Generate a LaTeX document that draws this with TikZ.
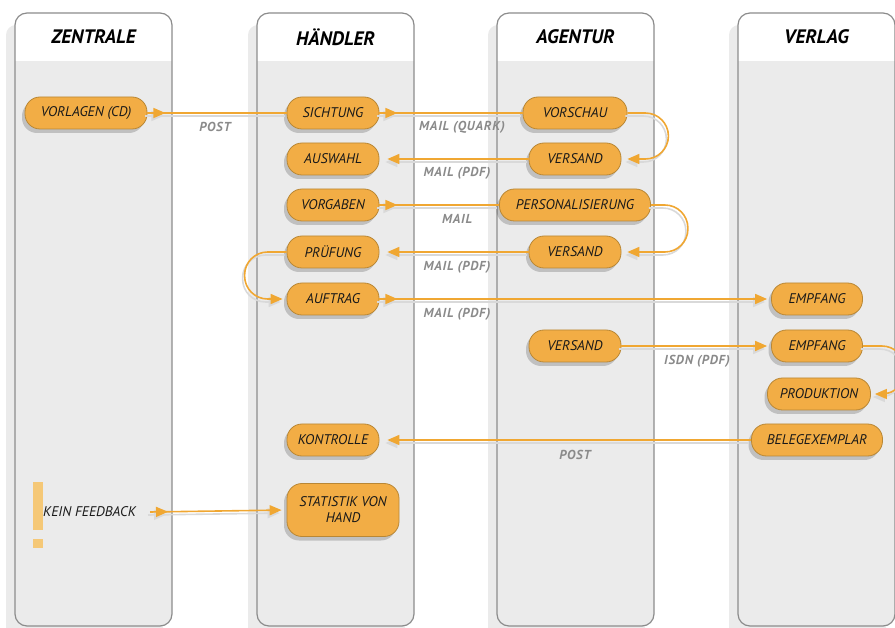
\documentclass[tikz,border=0pt]{standalone}
\usepackage{fontspec}
\setmainfont{PT Sans}
\newfontfamily\lblfont[LetterSpace=6]{PT Sans}
\usetikzlibrary{arrows.meta,shadows,decorations.markings,calc}
\definecolor{lanefill}{HTML}{EBEBEB}
\definecolor{laneline}{HTML}{8C8C8C}
\definecolor{laneshadow}{HTML}{EBEBEB}
\definecolor{nodefill}{HTML}{F2AD45}
\definecolor{nodeline}{HTML}{B98735}
\definecolor{flow}{HTML}{F0A732}
\definecolor{lbl}{HTML}{8A8A8A}
\definecolor{bang}{HTML}{F5C877}
\tikzset{
  box/.style={draw=nodeline, line width=0.8pt, fill=nodefill, rounded corners=15pt,
    minimum height=32pt, inner sep=0pt, align=center,
    font=\fontsize{14}{16}\selectfont\itshape, text=black!90,
    drop shadow={shadow xshift=-3pt, shadow yshift=-4pt, fill=black, opacity=0.18}},
  lanetitle/.style={font=\fontsize{19.5}{22}\selectfont\bfseries\itshape},
  lbltext/.style={font=\lblfont\fontsize{13}{14}\selectfont\bfseries\itshape, text=lbl},
  flowline/.style={draw=flow, line width=1.6pt},
  flowshadow/.style={draw=black!15, line width=1.6pt, transform canvas={shift={(-2pt,-3pt)}}},
  tip/.style={-{Triangle[length=12pt,width=10pt]}},
  srcmark/.style={decoration={markings, mark=at position 18pt with {\arrow{Triangle[length=12pt,width=10pt]}}}, postaction={decorate}},
}
\newcommand\flowconn[2][]{\draw[flowshadow,#1] #2; \draw[flowline,#1] #2;}
\begin{document}
\begin{tikzpicture}[x=1pt,y=-1pt]
\useasboundingbox (0,0) rectangle (895,628);
% lanes
\foreach \x/\t [count=\i] in {15/ZENTRALE,257/HÄNDLER,497/AGENTUR,738/VERLAG} {
  \fill[laneshadow, rounded corners=10pt] (\x-9,25) rectangle ++(157,615);
  \fill[lanefill, rounded corners=12pt] (\x,13) rectangle ++(157,613);
  \begin{scope}
    \clip (\x,13) rectangle (\x+157,61);
    \fill[white, rounded corners=12pt] (\x,13) rectangle ++(157,613);
  \end{scope}
  \draw[laneline, line width=1.2pt, rounded corners=12pt] (\x,13) rectangle ++(157,613);
  \node[lanetitle] (lane\i) at (\x+78.5,37) {\t};
}
% nodes
\node[box, minimum width=122pt] (vorlagen) at (86,113) {VORLAGEN (CD)};
\node[box, minimum width=92pt] (sichtung) at (333,113) {SICHTUNG};
\node[box, minimum width=92pt] (auswahl) at (333,159) {AUSWAHL};
\node[box, minimum width=92pt] (vorgaben) at (333,205) {VORGABEN};
\node[box, minimum width=92pt] (pruefung) at (333,252) {PRÜFUNG};
\node[box, minimum width=92pt] (auftrag) at (333,299) {AUFTRAG};
\node[box, minimum width=92pt] (kontrolle) at (333,440) {KONTROLLE};
\node[box, minimum width=112pt, minimum height=53pt] (statistik) at (343,510) {STATISTIK VON\\HAND};
\node[box, minimum width=104pt] (vorschau) at (575,113) {VORSCHAU};
\node[box, minimum width=92pt] (versandA) at (575,159) {VERSAND};
\node[box, minimum width=151pt] (personal) at (575,205) {PERSONALISIERUNG};
\node[box, minimum width=92pt] (versandB) at (575,252) {VERSAND};
\node[box, minimum width=92pt] (versandC) at (575,346) {VERSAND};
\node[box, minimum width=91pt] (empfangA) at (817,299) {EMPFANG};
\node[box, minimum width=91pt] (empfangB) at (817,346) {EMPFANG};
\node[box, minimum width=103pt] (produktion) at (819,394) {PRODUKTION};
\node[box, minimum width=131pt] (beleg) at (817,440) {BELEGEXEMPLAR};
% kein feedback
\fill[bang] (33,482) rectangle (43,530);
\fill[bang] (33,539) rectangle (43,548);
\node[anchor=west, inner sep=0pt, font=\fontsize{14}{16}\selectfont\itshape, text=black!90] (feedback) at (43,512) {KEIN FEEDBACK};
% connectors
\flowconn[srcmark]{(vorlagen.east) -- (sichtung.west)}
\flowconn[srcmark]{(sichtung.east) -- (vorschau.west)}
\flowconn[tip, rounded corners=23pt, shorten >=6pt]{(vorschau.east) -- ++(41,0) |- (versandA.east)}
\flowconn[tip, shorten >=8pt]{(versandA.west) -- (auswahl.east)}
\flowconn[srcmark]{(vorgaben.east) -- (personal.west)}
\flowconn[tip, rounded corners=23pt, shorten >=6pt]{(personal.east) -- ++(37,0) |- (versandB.east)}
\flowconn[tip, shorten >=8pt]{(versandB.west) -- (pruefung.east)}
\flowconn[tip, rounded corners=23pt, shorten >=4pt]{(pruefung.west) -- ++(-42,0) |- (auftrag.west)}
\flowconn[srcmark, tip, shorten >=4pt]{(auftrag.east) -- (empfangA.west)}
\flowconn[tip, shorten >=4pt]{(versandC.east) -- (empfangB.west)}
\flowconn[tip, rounded corners=23pt, shorten >=4pt]{(empfangB.east) -- ++(42,0) |- (produktion.east)}
\flowconn[tip, shorten >=8pt]{(beleg.west) -- (kontrolle.east)}
\flowconn[srcmark, tip, shorten >=5pt]{([xshift=14pt]feedback.east) -- (statistik.west)}
% labels
\node[lbltext] (lpost1) at (215,127) {POST};
\node[lbltext] (lquark) at (462,127) {MAIL (QUARK)};
\node[lbltext] (lpdf1) at (457,173) {MAIL (PDF)};
\node[lbltext] (lmail) at (457,219) {MAIL};
\node[lbltext] (lpdf2) at (457,267) {MAIL (PDF)};
\node[lbltext] (lpdf3) at (457,314) {MAIL (PDF)};
\node[lbltext] (lisdn) at (697,361) {ISDN (PDF)};
\node[lbltext] (lpost2) at (575,455) {POST};
\end{tikzpicture}
\end{document}
